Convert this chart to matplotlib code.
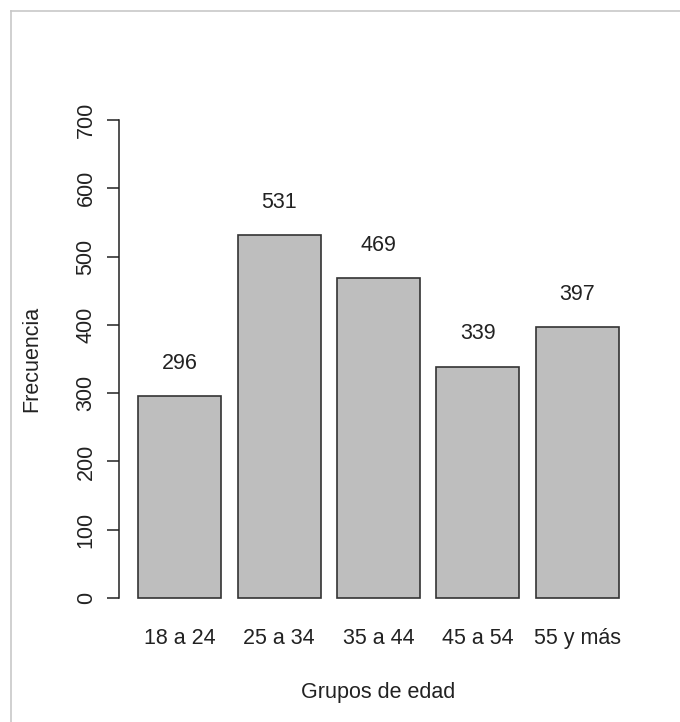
import matplotlib
matplotlib.use("Agg")
import matplotlib.pyplot as plt
from matplotlib.lines import Line2D
import numpy as np

# datos
grupos = ["18 a 24", "25 a 34", "35 a 44", "45 a 54", "55 y más"]
frecuencia = [296, 531, 469, 339, 397]
yticks = [0, 100, 200, 300, 400, 500, 600, 700]

plt.rcParams["font.family"] = ["Liberation Sans", "DejaVu Sans"]
fs = 15.5
tc = "#222222"

W, H = 680, 722
fig = plt.figure(figsize=(W / 100, H / 100), dpi=100)
ax = fig.add_axes([119 / W, (H - 617) / H, (638 - 119) / W, (617 - 101) / H])

# posiciones tipo barplot de R (ancho 1, espacio 0.2)
x = 0.7 + 1.2 * np.arange(len(grupos))
ax.bar(x, frecuencia, width=1.0, color="#bebebe", edgecolor="#333333", linewidth=1.2)

for xi, v in zip(x, frecuencia):
    ax.text(xi, v + 48, str(v), ha="center", va="center", fontsize=fs, color=tc)

ax.set_xlim(-0.032, 6.232)
ax.set_ylim(-28, 728)

for s in ["top", "right", "bottom"]:
    ax.spines[s].set_visible(False)
ax.spines["left"].set_bounds(0, 700)
ax.spines["left"].set_color(tc)
ax.spines["left"].set_linewidth(1.1)

ax.set_yticks(yticks)
ax.set_yticklabels([str(t) for t in yticks], rotation=90, va="center", fontsize=fs, color=tc)
ax.tick_params(axis="y", length=8.6, width=1.1, color=tc, pad=7.5)

ax.set_xticks(x)
ax.set_xticklabels(grupos, fontsize=fs, color=tc)
ax.tick_params(axis="x", length=0, pad=8)

ax.set_xlabel("Grupos de edad", fontsize=fs, color=tc, labelpad=24)
ax.set_ylabel("Frecuencia", fontsize=fs, color=tc, labelpad=24)

# borde gris de la captura
fig.add_artist(Line2D([11 / W, 1], [1 - 11 / H, 1 - 11 / H], transform=fig.transFigure, color="#c8c8c8", lw=1.2))
fig.add_artist(Line2D([11 / W, 11 / W], [0, 1 - 11 / H], transform=fig.transFigure, color="#c8c8c8", lw=1.2))

fig.savefig("out.png", dpi=100)
